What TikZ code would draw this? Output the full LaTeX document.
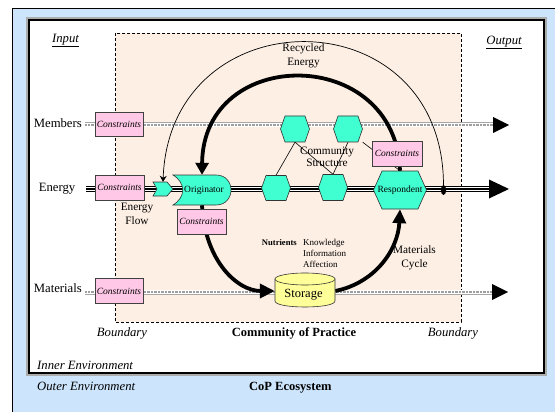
\documentclass[tikz,border=0pt]{standalone}
\usepackage{fontspec}
\setmainfont{Liberation Serif}
\usetikzlibrary{arrows.meta,shapes.geometric}

\definecolor{skyfill}{RGB}{204,228,252}
\definecolor{peach}{RGB}{253,239,228}
\definecolor{aquafill}{RGB}{64,255,208}
\definecolor{pinkbox}{RGB}{255,200,230}
\definecolor{storeyel}{RGB}{255,255,153}

\pgfdeclarelayer{bg}
\pgfdeclarelayer{flow}
\pgfsetlayers{bg,flow,main}

\tikzset{
  lbl/.style={inner sep=0, font=\fontsize{12.7}{14}\selectfont},
  lblit/.style={inner sep=0, font=\fontsize{12.7}{14}\selectfont\itshape},
  lblbf/.style={inner sep=0, font=\fontsize{12.5}{14}\selectfont\bfseries},
  midtxt/.style={inner sep=0, font=\fontsize{11.3}{13}\selectfont},
  smalltxt/.style={inner sep=0, font=\fontsize{9}{11}\selectfont},
  cbox/.style={draw=black!75, fill=pinkbox, line width=0.8pt, minimum width=48pt,
    minimum height=24pt, inner sep=0, font=\fontsize{9.5}{11}\selectfont\itshape},
  hexfill/.style={draw=black!80, fill=aquafill, line width=0.6pt},
  ghost/.style={inner sep=0, draw=none, fill=none},
  energyline/.style={line width=1.1pt,
    preaction={draw,black,solid,line width=6pt},
    preaction={draw,white,solid,line width=3.6pt}},
  hatchline/.style={draw=gray!75, line width=2.4pt, dash pattern=on 0.7pt off 0.7pt,
    preaction={draw,gray!70,solid,line width=5pt},
    preaction={draw,white,solid,line width=3.4pt}},
  thickarc/.style={line width=3.8pt},
  thinarc/.style={line width=0.7pt},
  linkline/.style={line width=0.6pt},
}

% hexagon: name, x, y, half width, half height, half top edge, text
\newcommand\hexnode[7]{%
  \filldraw[hexfill] (#2-#4,#3) -- (#2-#6,#3-#5) -- (#2+#6,#3-#5) -- (#2+#4,#3)
    -- (#2+#6,#3+#5) -- (#2-#6,#3+#5) -- cycle;
  \node[ghost, minimum width=2*#4, minimum height=2*#5,
    font=\fontsize{9.5}{11}\selectfont] (#1) at (#2,#3) {#7};
}

\begin{document}
\begin{tikzpicture}[x=1pt,y=-1pt]
\useasboundingbox (0,0) rectangle (555,412);

% ---------- environments ----------
\begin{pgfonlayer}{bg}
  \fill[skyfill] (12,8) rectangle (555,412);
  \draw[black, line width=0.8pt] (12,412) -- (12,8) -- (555,8);
  \fill[white] (27,18) rectangle (546,375);
  \draw[gray!65, line width=1.4pt] (27,18) rectangle (546,375);
  \draw[black, line width=1.4pt] (29,20) rectangle (544,373);
  \filldraw[fill=peach, draw=black, dash pattern=on 3pt off 2pt, line width=0.8pt]
    (115,33) rectangle (461,322);
\end{pgfonlayer}

% ---------- nodes ----------
\node[cbox] (mc) at (119,124) {Constraints};
\node[cbox, minimum width=49pt, minimum height=25pt] (ec) at (119.5,187.5) {Constraints};
\node[cbox, minimum width=49pt, minimum height=25pt] (oc) at (201.5,221.5) {Constraints};
\node[cbox, minimum width=50pt, minimum height=25pt] (rc) at (397,153.5) {Constraints};
\node[cbox, minimum height=25pt] (matc) at (119,291) {Constraints};

% chevron in front of the originator
\filldraw[hexfill] (153,182) -- (167,182) -- (173,189) -- (167,196) -- (153,196) -- (157,189) -- cycle;
\node[ghost, minimum width=20pt, minimum height=14pt] (chev) at (163,189) {};

% originator
\filldraw[hexfill] (173,175) -- (216,175) .. controls (236,175) and (236,205) .. (216,205)
  -- (173,205) .. controls (186,197) and (186,183) .. (173,175) -- cycle;
\node[ghost, minimum width=58pt, minimum height=30pt, font=\fontsize{9.5}{11}\selectfont]
  (orig) at (202,190) {\hspace*{4pt}Originator};

% hexagons of the community structure
\hexnode{h1}{295}{129}{14.5}{13}{10}{}
\hexnode{h2}{348}{129}{14.5}{13}{10}{}
\hexnode{e1}{276}{188}{14.5}{12.5}{10}{}
\hexnode{e2}{333}{187.5}{14.5}{13}{10}{}
\hexnode{resp}{400}{190}{26.5}{19}{18}{Respondent}

% storage
\filldraw[draw=black!80, fill=storeyel, line width=0.6pt]
  (275,279) -- (275,301) .. controls (275,309) and (335,309) .. (335,301) -- (335,279) -- cycle;
\filldraw[draw=black!80, fill=storeyel, line width=0.6pt]
  (305,279) ellipse [x radius=30pt, y radius=6pt];
\node[ghost, minimum width=60pt, minimum height=34pt] (store) at (305,291) {};
\node[inner sep=0, anchor=base, font=\fontsize{12.5}{14}\selectfont] (storetxt) at (303.5,297) {Storage};

% junction on the energy line
\node[ellipse, fill=black, inner sep=0, minimum width=5.4pt, minimum height=10pt] (junc) at (443.5,190) {};

% free ends of the flows
\coordinate (min) at (85,125);
\coordinate (mout) at (493,125);
\coordinate (ein) at (86,189);
\coordinate (eout) at (489,189);
\coordinate (matin) at (85,292);
\coordinate (matout) at (492,292);

% ---------- flows and cycles ----------
\begin{pgfonlayer}{flow}
  \draw[hatchline] (min) -- (mout);
  \draw[hatchline] (matin) -- (matout);
  \draw[energyline] (ein) -- (eout);
  \fill (mout) ++(0,-8) -- ++(16,8) -- ++(-16,8) -- cycle;
  \fill (matout) ++(0,-8) -- ++(16,8) -- ++(-16,8) -- cycle;
  \fill (eout) ++(0,-9.5) -- ++(20,9.5) -- ++(-20,9.5) -- cycle;

  % community structure links
  \draw[linkline] (h1.south) -- (e1.north);
  \draw[linkline] (h1.south) -- (e2.north);
  \draw[linkline] (h2.south) -- (e2.north);
  \draw[linkline] (h2.south east) -- (resp.north);

  % recycled energy
  \draw[thinarc, -{Stealth[length=6pt,width=7pt]}]
    (junc) .. controls (443,-5) and (170,-5) .. (chev.north);
  \draw[thickarc, -{Triangle[length=12pt,width=13pt]}]
    (resp.north) .. controls (396,45) and (203,45) .. (orig.north);

  % materials cycle
  \draw[thickarc, -{Triangle[length=15pt,width=14pt]}]
    (orig.south) .. controls (205,262) and (238,291) .. (store.west);
  \draw[thickarc, -{Triangle[length=14pt,width=13pt]}]
    (store.east) .. controls (375,283) and (398,250) .. (resp.south);
\end{pgfonlayer}

% ---------- labels ----------
\node[lblit, anchor=base] (tin) at (65.5,42.5) {\underline{Input}};
\node[lblit, anchor=base] (tout) at (504,44.5) {\underline{Output}};
\node[lbl, anchor=base east] (tmem) at (82,127.5) {Members};
\node[lbl, anchor=base east] (tene) at (75.5,191.5) {Energy};
\node[lbl, anchor=base east] (tmat) at (82,292.5) {Materials};

\node[midtxt, anchor=base] (trec1) at (303.5,52) {Recycled};
\node[midtxt, anchor=base] (trec2) at (303.5,66) {Energy};
\node[midtxt, anchor=base] (tcom1) at (327,154) {Community};
\node[midtxt, anchor=base] (tcom2) at (327,167) {Structure};
\node[midtxt, anchor=base] (tef1) at (137,210) {Energy};
\node[midtxt, anchor=base] (tef2) at (137,224) {Flow};
\node[midtxt, anchor=base] (tmc1) at (414.5,253) {Materials};
\node[midtxt, anchor=base] (tmc2) at (414.5,267) {Cycle};

\node[smalltxt, anchor=base east, font=\fontsize{8.6}{10}\selectfont\bfseries] (tnut) at (297,245) {Nutrients};
\node[smalltxt, anchor=base west] (tkno) at (303,245) {Knowledge};
\node[smalltxt, anchor=base west] (tinf) at (303,256) {Information};
\node[smalltxt, anchor=base west] (taff) at (303,267) {Affection};

\node[lblit, anchor=base] (tbl) at (122,336) {Boundary};
\node[lblit, anchor=base] (tbr) at (453,336) {Boundary};
\node[lblbf, anchor=base] (tcop) at (294,336) {Community of Practice};
\node[lblit, anchor=base west] (tinner) at (37,369) {Inner Environment};
\node[lblit, anchor=base west] (touter) at (37,390) {Outer Environment};
\node[lblbf, anchor=base west] (teco) at (249,390) {CoP Ecosystem};
\end{tikzpicture}
\end{document}
